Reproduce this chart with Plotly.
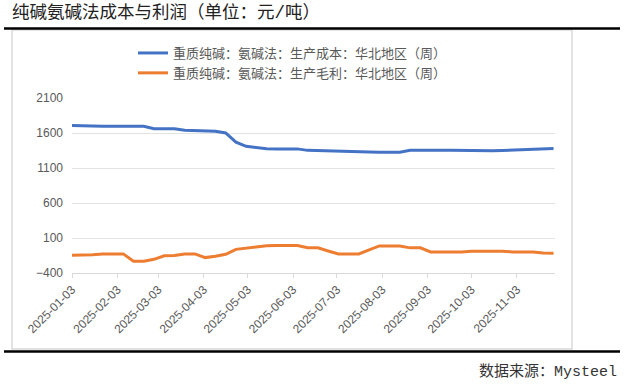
import plotly.graph_objects as go
import pandas as pd

# Weekly dates (Fridays)
dates = pd.date_range("2025-01-03", "2025-11-28", freq="7D").strftime("%Y-%m-%d").tolist()

cost = [1708, 1708, 1700, 1697, 1697, 1697, 1695, 1695, 1662, 1660,
        1660, 1640, 1637, 1637, 1625, 1600, 1470, 1410, 1388, 1375,
        1373, 1373, 1373, 1352, 1350, 1345, 1340, 1342, 1342, 1330,
        1325, 1325, 1325, 1352, 1355, 1355, 1355, 1352, 1350, 1345,
        1345, 1345, 1350, 1357, 1360, 1362, 1375, 1378]

profit = [-147, -145, -140, -130, -128, -127, -232, -232, -205, -155,
          -151, -128, -128, -180, -162, -132, -62, -42, -27, -10,
          -8, -8, -8, -40, -41, -85, -127, -127, -127, -70,
          -13, -13, -13, -41, -41, -99, -99, -99, -99, -88,
          -85, -85, -88, -99, -99, -99, -115, -118]

name_cost = "重质纯碱：氨碱法：生产成本：华北地区（周）"
name_profit = "重质纯碱：氨碱法：生产毛利：华北地区（周）"

tick_dates = ["2025-01-03", "2025-02-03", "2025-03-03", "2025-04-03", "2025-05-03",
              "2025-06-03", "2025-07-03", "2025-08-03", "2025-09-03", "2025-10-03",
              "2025-11-03"]
y_ticks = [-400, 100, 600, 1100, 1600, 2100]

title_text = "纯碱氨碱法成本与利润（单位：元/吨）"
source_text = "数据来源：Mysteel"

W, H = 625, 388
L, R, T, B = 72, 70, 98, 115
pw, ph = W - L - R, H - T - B

def px_x(x):
    return (x - L) / pw

def px_y(y):
    return 1 - (y - T) / ph

fig = go.Figure()
fig.add_trace(go.Scatter(x=dates, y=cost, mode="lines", name=name_cost,
                         line=dict(color="#4472C4", width=3)))
fig.add_trace(go.Scatter(x=dates, y=profit, mode="lines", name=name_profit,
                         line=dict(color="#ED7D31", width=3)))

tick_font = dict(family="Liberation Sans, Arial, sans-serif", size=12, color="#595959")

fig.update_layout(
    width=W, height=H,
    margin=dict(l=L, r=R, t=T, b=B, pad=0, autoexpand=False),
    paper_bgcolor="white", plot_bgcolor="white",
    showlegend=True,
    legend=dict(xref="container", yref="container",
                x=133 / W, y=1 - 38 / H, xanchor="left", yanchor="top",
                orientation="v", bgcolor="rgba(0,0,0,0)",
                font=dict(family="Noto Sans CJK SC", size=13, color="#595959"),
                tracegroupgap=0, itemwidth=30),
    xaxis=dict(type="date", range=["2025-01-03", "2025-11-29"],
               tickvals=tick_dates, ticktext=tick_dates, tickangle=-45,
               tickfont=tick_font, showgrid=False, zeroline=False,
               showline=True, linecolor="#d9d9d9", linewidth=1,
               ticks="outside", ticklen=4, tickcolor="#d9d9d9", automargin=False),
    yaxis=dict(range=[-400, 2100], tickvals=y_ticks, tickfont=tick_font,
               showgrid=True, gridcolor="#e3e3e3", gridwidth=1, zeroline=False,
               showline=False, ticklabelstandoff=8, automargin=False),
)

shapes = [
    dict(type="rect", xref="paper", yref="paper",
         x0=px_x(12), x1=px_x(572), y0=px_y(349), y1=px_y(30),
         line=dict(color="#d9d9d9", width=1.5), fillcolor="rgba(0,0,0,0)", layer="below"),
    dict(type="line", xref="paper", yref="paper",
         x0=px_x(4), x1=px_x(620), y0=px_y(28.5), y1=px_y(28.5),
         line=dict(color="#000000", width=2.5)),
    dict(type="line", xref="paper", yref="paper",
         x0=px_x(4), x1=px_x(620), y0=px_y(351.5), y1=px_y(351.5),
         line=dict(color="#000000", width=2.5)),
]
fig.update_layout(shapes=shapes)

fig.add_annotation(text=title_text, xref="paper", yref="paper",
                   x=px_x(10), y=px_y(13), xanchor="left", yanchor="middle",
                   showarrow=False,
                   font=dict(family="Liberation Mono, Noto Sans CJK SC", size=17.5, color="#222222"))
fig.add_annotation(text=source_text, xref="paper", yref="paper",
                   x=px_x(619), y=px_y(372), xanchor="right", yanchor="middle",
                   showarrow=False,
                   font=dict(family="Liberation Mono, Noto Sans CJK SC", size=15, color="#333333"))

fig.write_html("out.html", config={"displayModeBar": False},
               post_script="document.body.style.margin='0';document.body.style.padding='0';")
